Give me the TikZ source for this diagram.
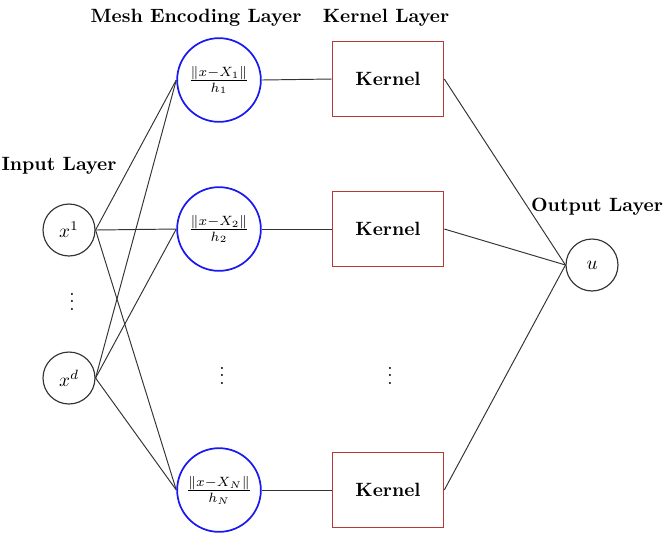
\documentclass[tikz,border=0pt]{standalone}
\usepackage{amsmath}
\definecolor{ink}{HTML}{333333}
\definecolor{encc}{HTML}{1A1AF0}
\definecolor{kerc}{HTML}{B83838}
\usetikzlibrary{positioning}

\begin{document}
\begin{tikzpicture}[x=0.01828cm,y=-0.01828cm,every node/.style={font=\normalsize}]
\tikzstyle{inunit}=[circle,draw=ink,line width=0.6pt,minimum size=0.95cm,inner sep=0pt]
\tikzstyle{encunit}=[circle,draw=encc,line width=0.9pt,minimum size=1.53cm,inner sep=0pt]
\tikzstyle{kerbox}=[draw=kerc,line width=0.8pt,minimum width=2.03cm,minimum height=1.37cm,font=\bfseries]
\tikzstyle{title}=[font=\bfseries]
\tikzstyle{wire}=[ink,line width=0.5pt]
\useasboundingbox (0,0) rectangle (665,532);
% layer titles
\node[title] (tin) at (59,166) {Input Layer};
\node[title] (tenc) at (196,18) {Mesh Encoding Layer};
\node[title] (tker) at (386,18) {Kernel Layer};
\node[title] (tout) at (597,207) {Output Layer};
% input layer
\node[inunit] (in1) at (69,230) {$x^1$};
\node[inunit] (ind) at (69,378) {$x^d$};
\node (dotin) at (72,296) {$\vdots$};
% mesh encoding layer
\node[encunit] (enc1) at (219,80) {$\frac{\|x-X_1\|}{h_1}$};
\node[encunit] (enc2) at (219,229) {$\frac{\|x-X_2\|}{h_2}$};
\node[encunit] (encN) at (219,490) {$\frac{\|x-X_N\|}{h_N}$};
\node (dotenc) at (222,370) {$\vdots$};
% kernel layer
\node[kerbox] (ker1) at (388,79) {Kernel};
\node[kerbox] (ker2) at (388,229) {Kernel};
\node[kerbox] (kerN) at (388,490) {Kernel};
\node (dotker) at (390,370) {$\vdots$};
% output layer
\node[inunit] (out) at (592,265) {$u$};
% connections
\foreach \i in {in1,ind}
  \foreach \j in {enc1,enc2,encN}
    \draw[wire] (\i.east)--(\j.west);
\foreach \j in {1,2,N}
  \draw[wire] (enc\j.east)--(ker\j.west);
\foreach \j in {1,2,N}
  \draw[wire] (ker\j.east)--(out.west);
\end{tikzpicture}
\end{document}
